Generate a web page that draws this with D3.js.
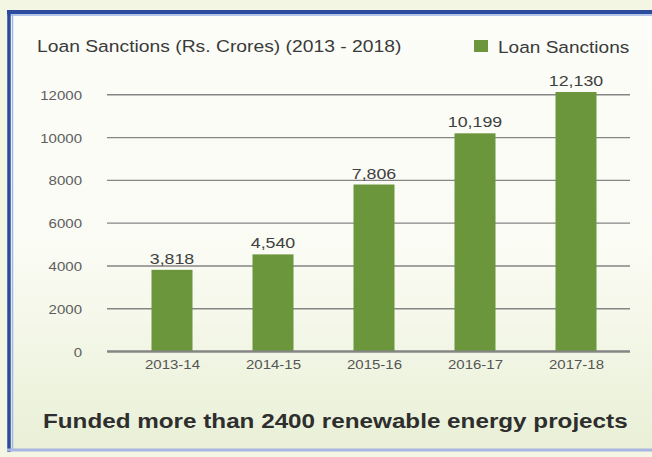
<!DOCTYPE html>
<html>
<head>
<meta charset="utf-8">
<script src="https://cdn.jsdelivr.net/npm/d3@7"></script>
<style>
  html, body { margin: 0; padding: 0; background: #f5f6e8; }
  svg { display: block; }
  text { font-family: "Liberation Sans", Arial, sans-serif; }
</style>
</head>
<body>
<svg id="chart" width="652" height="457"></svg>
<script>
// Loan sanctions per financial year (Rs. crores)
const years = ["2013-14", "2014-15", "2015-16", "2016-17", "2017-18"];
const sanctions = [3818, 4540, 7806, 10199, 12130];
const valueLabels = ["3,818", "4,540", "7,806", "10,199", "12,130"];
const yTicks = [0, 2000, 4000, 6000, 8000, 10000, 12000];
const chartTitle = "Loan Sanctions (Rs. Crores) (2013 - 2018)";
const legendLabel = "Loan Sanctions";
const footerText = "Funded more than 2400 renewable energy projects";

const W = 652, H = 457;
const SX = 1.155;            // horizontal text stretch used throughout the panel
const barColor = "#6b963c";
const barWidth = 41;

const svg = d3.select("#chart");
const defs = svg.append("defs");

// panel background: white fading to a pale green near the bottom
const grad = defs.append("linearGradient")
  .attr("id", "panelFill").attr("x1", 0).attr("y1", 0).attr("x2", 0).attr("y2", 1);
grad.append("stop").attr("offset", "0%").attr("stop-color", "#fcfdf8");
grad.append("stop").attr("offset", "55%").attr("stop-color", "#fafbf3");
grad.append("stop").attr("offset", "100%").attr("stop-color", "#e9f0d6");

// page backdrop
svg.append("rect").attr("width", W).attr("height", H).attr("fill", "#f4f6e4");

// framed panel
svg.append("rect")
  .attr("x", 10).attr("y", 13).attr("width", W - 10).attr("height", 437)
  .attr("fill", "url(#panelFill)");
svg.append("line").attr("x1", 7).attr("x2", W).attr("y1", 12).attr("y2", 12)
  .attr("stroke", "#2b4b9e").attr("stroke-width", 4);
svg.append("line").attr("x1", 7).attr("x2", W).attr("y1", 15).attr("y2", 15)
  .attr("stroke", "#9db0e4").attr("stroke-width", 1.5);
svg.append("line").attr("x1", 9).attr("x2", 9).attr("y1", 10).attr("y2", 452)
  .attr("stroke", "#2b4b9e").attr("stroke-width", 3.5);
svg.append("line").attr("x1", 12.5).attr("x2", 12.5).attr("y1", 15).attr("y2", 450)
  .attr("stroke", "#a5b6e6").attr("stroke-width", 1.5);
svg.append("line").attr("x1", 7).attr("x2", W).attr("y1", 450).attr("y2", 450)
  .attr("stroke", "#aab6e2").attr("stroke-width", 3);

// scales
const x = d3.scalePoint().domain(years).range([172, 576]);
const y = d3.scaleLinear().domain([0, 12000]).range([351.5, 94.8]);

function placeText(sel, px, py) {
  return sel.attr("transform", `translate(${px},${py}) scale(${SX},1)`);
}

// horizontal gridlines
const grid = svg.append("g");
grid.selectAll("line").data(yTicks).join("line")
  .attr("x1", 107).attr("x2", 630)
  .attr("y1", d => y(d)).attr("y2", d => y(d))
  .attr("stroke", "#858585")
  .attr("stroke-width", d => d === 0 ? 2 : 1.4);

// y axis built with d3.axisLeft, then restyled
const yAxis = svg.append("g")
  .attr("transform", "translate(82,0)")
  .call(d3.axisLeft(y).tickValues(yTicks).tickSize(0).tickPadding(0).tickFormat(d3.format("d")));
yAxis.select(".domain").remove();
yAxis.selectAll(".tick text")
  .attr("x", 0).attr("dy", "0.35em")
  .attr("fill", "#5e5e5e")
  .style("font-size", "13px")
  .style("font-family", "'Liberation Sans', Arial, sans-serif")
  .attr("transform", `scale(${SX},1)`);

// bars
svg.append("g").selectAll("rect").data(sanctions).join("rect")
  .attr("x", (d, i) => x(years[i]) - barWidth / 2)
  .attr("width", barWidth)
  .attr("y", d => y(d))
  .attr("height", d => y(0) - y(d))
  .attr("fill", barColor);

// redraw baseline over bar bottoms
svg.append("line").attr("x1", 107).attr("x2", 630).attr("y1", y(0)).attr("y2", y(0))
  .attr("stroke", "#858585").attr("stroke-width", 2);

// value labels
svg.append("g").selectAll("text").data(sanctions).join("text")
  .each(function (d, i) { placeText(d3.select(this), x(years[i]), y(d) - 6); })
  .attr("text-anchor", "middle")
  .attr("fill", "#404040")
  .style("font-size", "15.4px")
  .text((d, i) => valueLabels[i]);

// category labels
const xAxis = svg.append("g")
  .attr("transform", `translate(0,${y(0)})`)
  .call(d3.axisBottom(x).tickSize(0).tickPadding(0));
xAxis.select(".domain").remove();
xAxis.selectAll(".tick text")
  .attr("y", 18).attr("dy", 0)
  .attr("fill", "#555")
  .style("font-size", "13px")
  .style("font-family", "'Liberation Sans', Arial, sans-serif")
  .attr("transform", `scale(${SX},1)`);

// title
placeText(svg.append("text"), 37, 52)
  .attr("fill", "#3a3a3a")
  .style("font-size", "16.7px")
  .text(chartTitle);

// legend
svg.append("rect").attr("x", 474).attr("y", 40).attr("width", 14).attr("height", 12)
  .attr("fill", barColor);
placeText(svg.append("text"), 498, 53)
  .attr("fill", "#3a3a3a")
  .style("font-size", "16.5px")
  .text(legendLabel);

// footer
placeText(svg.append("text"), 43, 428)
  .attr("fill", "#2e2e2e")
  .style("font-size", "21px")
  .style("font-weight", "bold")
  .text(footerText);
</script>
</body>
</html>
